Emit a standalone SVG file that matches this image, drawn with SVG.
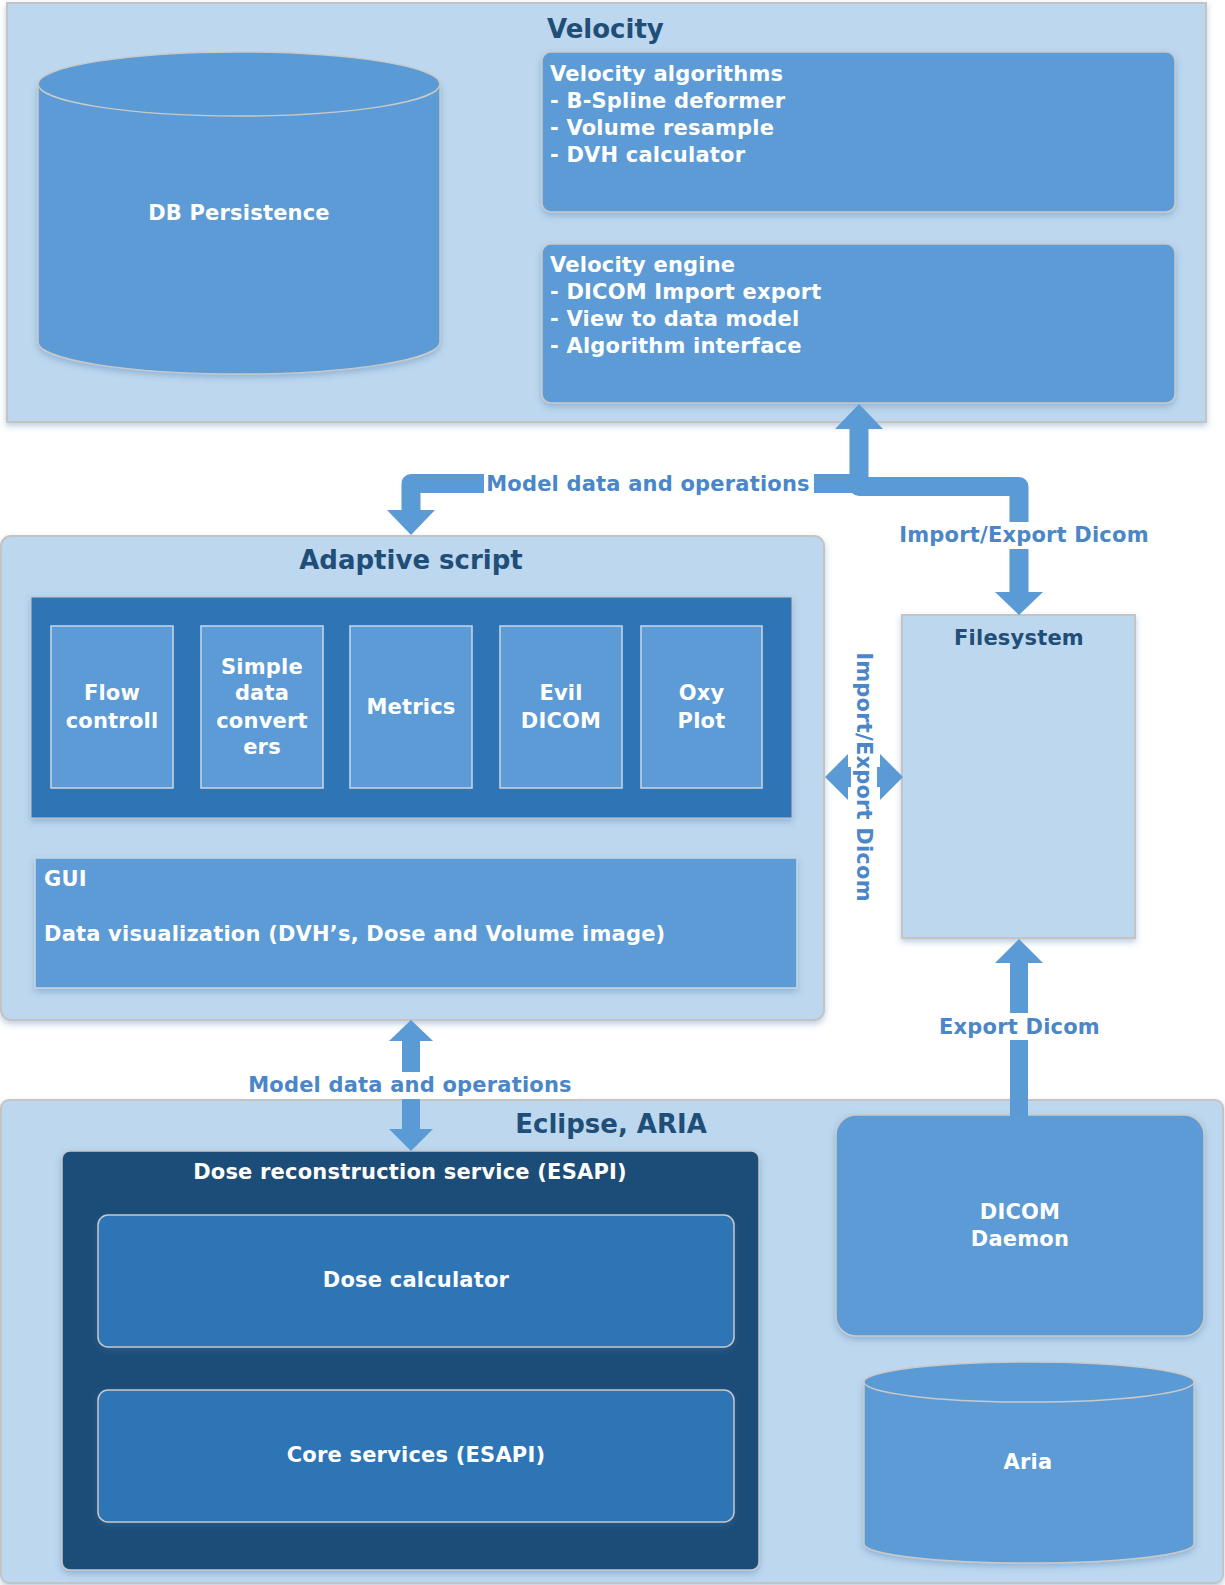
<svg xmlns="http://www.w3.org/2000/svg" width="1225" height="1585" viewBox="0 0 1225 1585">
<defs>
<filter id="sh" x="-5%" y="-5%" width="110%" height="115%"><feDropShadow dx="0" dy="3" stdDeviation="3" flood-color="#3a6ea5" flood-opacity="0.35"/></filter>
<style>
.cont{fill:#bdd7ee;stroke:#c4c4c4;stroke-width:2}
.mid{fill:#5b9bd5;stroke:#c9c9c9;stroke-width:1.5}
.midl{fill:#5b9bd5;stroke:#c8d6e6;stroke-width:1.5}
.dark{fill:#2e75b6;stroke:#c8c8c8;stroke-width:1.5}
.darker{fill:#1f4e79;stroke:#c8c8c8;stroke-width:1.5}
text{font-family:"DejaVu Sans","Verdana",sans-serif;font-weight:bold}
.t{font-size:21px;fill:#ffffff;letter-spacing:0.2px}
.title{font-size:26px;fill:#1f4e79}
.ft{font-size:21px;fill:#1f4e79;letter-spacing:0.2px}
.lbl{font-size:21px;fill:#4a86c8;letter-spacing:0.2px}
.c{text-anchor:middle}
.arr{fill:#5b9bd5}
.bar{fill:none;stroke:#5b9bd5;stroke-width:19;stroke-linejoin:round}
.bg{fill:#ffffff}
</style>
</defs>
<rect width="1225" height="1585" fill="#ffffff"/>

<g id="velocity">
<rect class="cont" x="7" y="3" width="1199" height="419" filter="url(#sh)"/>
<text class="title" x="547" y="38">Velocity</text>
</g>

<g id="db-persistence">
<path class="mid" d="M38,84 V342 A201,32 0 0 0 440,342 V84 Z" filter="url(#sh)"/>
<ellipse class="mid" cx="239" cy="84" rx="201" ry="32"/>
<text class="t c" x="239" y="220">DB Persistence</text>
</g>

<g id="velocity-algorithms">
<rect class="mid" x="542" y="52" width="633" height="160" rx="9" filter="url(#sh)"/>
<text class="t" x="550" y="81">Velocity algorithms</text>
<text class="t" x="550" y="108">- B-Spline deformer</text>
<text class="t" x="550" y="135">- Volume resample</text>
<text class="t" x="550" y="162">- DVH calculator</text>
</g>

<g id="velocity-engine">
<rect class="mid" x="542" y="244" width="633" height="159" rx="9" filter="url(#sh)"/>
<text class="t" x="550" y="272">Velocity engine</text>
<text class="t" x="550" y="299">- DICOM Import export</text>
<text class="t" x="550" y="326">- View to data model</text>
<text class="t" x="550" y="353">- Algorithm interface</text>
</g>

<g id="adaptive-script">
<rect class="cont" x="1" y="536" width="823" height="484" rx="10" filter="url(#sh)"/>
<text class="title c" x="411" y="569">Adaptive script</text>
</g>

<g id="libraries">
<rect x="31" y="597" width="761" height="221" fill="#2e75b6" stroke="#c8c8c8" stroke-width="1" filter="url(#sh)"/>
</g>

<g id="flow-controll">
<rect class="midl" x="51" y="626" width="122" height="162" filter="url(#sh)"/>
<text class="t c" x="112" y="700">Flow</text>
<text class="t c" x="112" y="728">controll</text>
</g>
<g id="simple-data-converters">
<rect class="midl" x="201" y="626" width="122" height="162" filter="url(#sh)"/>
<text class="t c" x="262" y="674">Simple</text>
<text class="t c" x="262" y="700">data</text>
<text class="t c" x="262" y="728">convert</text>
<text class="t c" x="262" y="754">ers</text>
</g>
<g id="metrics">
<rect class="midl" x="350" y="626" width="122" height="162" filter="url(#sh)"/>
<text class="t c" x="411" y="714">Metrics</text>
</g>
<g id="evil-dicom">
<rect class="midl" x="500" y="626" width="122" height="162" filter="url(#sh)"/>
<text class="t c" x="561" y="700">Evil</text>
<text class="t c" x="561" y="728">DICOM</text>
</g>
<g id="oxy-plot">
<rect class="midl" x="641" y="626" width="121" height="162" filter="url(#sh)"/>
<text class="t c" x="701.5" y="700">Oxy</text>
<text class="t c" x="701.5" y="728">Plot</text>
</g>

<g id="gui">
<rect class="midl" x="35" y="858" width="762" height="130" filter="url(#sh)"/>
<text class="t" x="44" y="886">GUI</text>
<text class="t" x="44" y="941">Data visualization (DVH’s, Dose and Volume image)</text>
</g>

<g id="filesystem">
<rect class="cont" x="902" y="615" width="233" height="323" filter="url(#sh)"/>
<text class="ft c" x="1019" y="645">Filesystem</text>
</g>

<g id="eclipse-aria">
<rect class="cont" x="1" y="1100" width="1222" height="483" rx="8" filter="url(#sh)"/>
<text class="title c" x="611" y="1133">Eclipse, ARIA</text>
</g>

<g id="dose-reconstruction-service">
<rect class="darker" x="62" y="1151" width="697" height="419" rx="8" filter="url(#sh)"/>
<text class="t c" x="410" y="1179">Dose reconstruction service (ESAPI)</text>
</g>

<g id="dose-calculator">
<rect class="dark" x="98" y="1215" width="636" height="132" rx="10" filter="url(#sh)"/>
<text class="t c" x="416" y="1287">Dose calculator</text>
</g>

<g id="core-services">
<rect class="dark" x="98" y="1390" width="636" height="132" rx="10" filter="url(#sh)"/>
<text class="t c" x="416" y="1462">Core services (ESAPI)</text>
</g>

<g id="dicom-daemon">
<rect class="mid" x="836" y="1115" width="368" height="221" rx="20" filter="url(#sh)"/>
<text class="t c" x="1020" y="1219" letter-spacing="1">DICOM</text>
<text class="t c" x="1020" y="1246">Daemon</text>
</g>

<g id="aria">
<path class="mid" d="M864,1382 V1544 A165,19 0 0 0 1194,1544 V1382 Z" filter="url(#sh)"/>
<ellipse class="mid" cx="1029" cy="1382" rx="165" ry="20"/>
<text class="t c" x="1028" y="1469">Aria</text>
</g>

<g id="connectors">
<!-- Velocity engine <-> Adaptive script / Filesystem -->
<polyline class="bar" points="859,428 859,486.5 1019,486.5 1019,593"/>
<polyline class="bar" points="859,483.5 411,483.5 411,511"/>
<polygon class="arr" points="835,429 859,404 883,429"/>
<polygon class="arr" points="387,510 435,510 411,535"/>
<polygon class="arr" points="995,592 1043,592 1019,615"/>
<rect class="bg" x="484" y="471" width="330" height="27"/>
<text class="lbl c" x="648" y="491">Model data and operations</text>
<rect class="bg" x="895" y="522" width="258" height="27"/>
<text class="lbl c" x="1024" y="542">Import/Export Dicom</text>

<!-- Adaptive script <-> Filesystem -->
<rect class="arr" x="847" y="767" width="34" height="20"/>
<polygon class="arr" points="825,777 848,754 848,800"/>
<polygon class="arr" points="903,777 880,754 880,800"/>
<rect class="bg" x="851" y="650" width="26" height="254"/>
<text class="lbl c" transform="translate(864,777) rotate(90)" x="0" y="7.5">Import/Export Dicom</text>

<!-- DICOM Daemon -> Filesystem -->
<rect class="arr" x="1010" y="962" width="18" height="154"/>
<polygon class="arr" points="995,963 1019,939 1043,963"/>
<rect class="bg" x="936" y="1013" width="167" height="27"/>
<text class="lbl c" x="1019.5" y="1034">Export Dicom</text>

<!-- Adaptive script <-> Dose reconstruction service -->
<rect class="arr" x="402" y="1040" width="18" height="90"/>
<polygon class="arr" points="389,1041 411,1020 433,1041"/>
<polygon class="arr" points="389,1129 433,1129 411,1151"/>
<rect class="bg" x="244" y="1072" width="334" height="27"/>
<text class="lbl c" x="410" y="1092">Model data and operations</text>
</g>
</svg>
